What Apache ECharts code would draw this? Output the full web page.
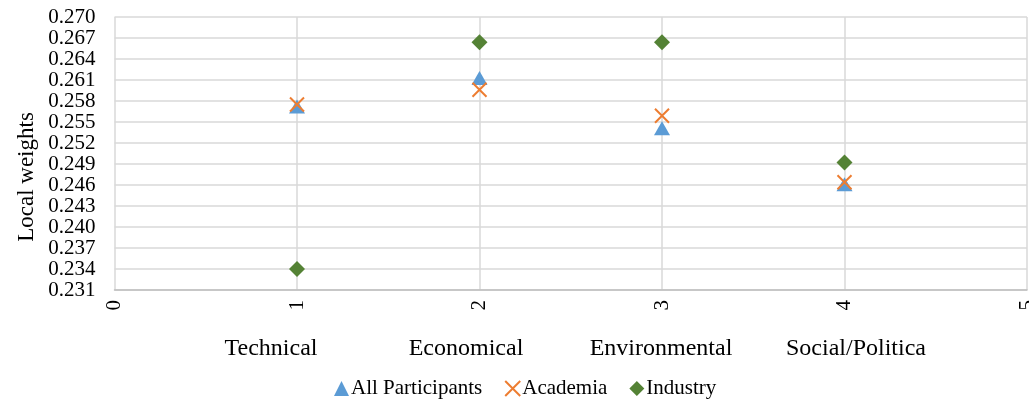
<!DOCTYPE html>
<html>
<head>
<meta charset="utf-8">
<script src="https://cdn.jsdelivr.net/npm/echarts@6/dist/echarts.min.js"></script>
<style>
  html, body { margin: 0; padding: 0; background: #fff; }
  #chart { width: 1029px; height: 403px; }
</style>
</head>
<body>
<div id="chart"></div>
<script>
// Criteria weights by stakeholder group
const criteria = ['Technical', 'Economical', 'Environmental', 'Social/Politica'];
const positions = [1, 2, 3, 4];
const allParticipants = [0.2572, 0.2613, 0.2541, 0.2461];
const academia = [0.2575, 0.2596, 0.2559, 0.2464];
const industry = [0.2340, 0.2664, 0.2664, 0.2492];

const FONT = 'Liberation Serif';
const GRID_COLOR = '#d9d9d9';

const pairs = vals => positions.map((p, i) => [p, vals[i]]);

const chart = echarts.init(document.getElementById('chart'));
chart.setOption({
  animation: false,
  backgroundColor: '#fff',
  textStyle: { fontFamily: FONT, color: '#000' },
  grid: [
    { left: 114.5, right: 2, top: 17, height: 273, outerBoundsMode: 'none', containLabel: false },
    { left: 173.5, width: 780, top: 17, height: 273, outerBoundsMode: 'none', containLabel: false }
  ],
  xAxis: [
    {
      type: 'value', gridIndex: 0, min: 0, max: 5, interval: 1,
      axisLine: { show: true, lineStyle: { color: '#bfbfbf', width: 1.5 } },
      axisTick: { show: false },
      splitLine: { show: true, lineStyle: { color: GRID_COLOR, width: 1.5 } },
      axisLabel: { rotate: 90, margin: 10, fontFamily: FONT, fontSize: 21, color: '#000' }
    },
    {
      type: 'category', gridIndex: 1, data: criteria, boundaryGap: true,
      axisLine: { show: false }, axisTick: { show: false }, splitLine: { show: false },
      axisLabel: { margin: 47, fontFamily: FONT, fontSize: 24, color: '#000', interval: 0 }
    }
  ],
  yAxis: [
    {
      type: 'value', gridIndex: 0, min: 0.231, max: 0.270, interval: 0.003,
      axisLine: { show: false }, axisTick: { show: false },
      splitLine: { show: true, lineStyle: { color: GRID_COLOR, width: 1.5 } },
      axisLabel: {
        margin: 19, fontFamily: FONT, fontSize: 21, color: '#000',
        formatter: v => v.toFixed(3)
      }
    },
    {
      type: 'value', gridIndex: 1, show: false
    }
  ],
  legend: {
    left: 329, top: 373, itemWidth: 15, itemHeight: 15, itemGap: 22,
    textStyle: { fontFamily: FONT, fontSize: 21, color: '#000', padding: [0, 0, 0, -3] },
    data: ['All Participants', 'Academia', 'Industry']
  },
  graphic: [{
    type: 'text', x: 27, y: 177, rotation: Math.PI / 2,
    style: {
      text: 'Local weights', fontFamily: FONT, fontSize: 23, fill: '#000',
      align: 'center', verticalAlign: 'middle'
    }
  }],
  series: [
    {
      name: 'All Participants', type: 'scatter', xAxisIndex: 0, yAxisIndex: 0,
      symbol: 'triangle', symbolSize: [16, 14],
      itemStyle: { color: '#5B9BD5', opacity: 1 },
      data: pairs(allParticipants)
    },
    {
      name: 'Academia', type: 'scatter', xAxisIndex: 0, yAxisIndex: 0,
      symbol: 'path://M0,0L10,10M10,0L0,10', symbolSize: 14,
      itemStyle: { color: 'rgba(0,0,0,0)', borderColor: '#ED7D31', borderWidth: 2, opacity: 1 },
      data: pairs(academia)
    },
    {
      name: 'Industry', type: 'scatter', xAxisIndex: 0, yAxisIndex: 0,
      symbol: 'diamond', symbolSize: 16,
      itemStyle: { color: '#548235', opacity: 1 },
      data: pairs(industry)
    }
  ]
});
</script>
</body>
</html>
